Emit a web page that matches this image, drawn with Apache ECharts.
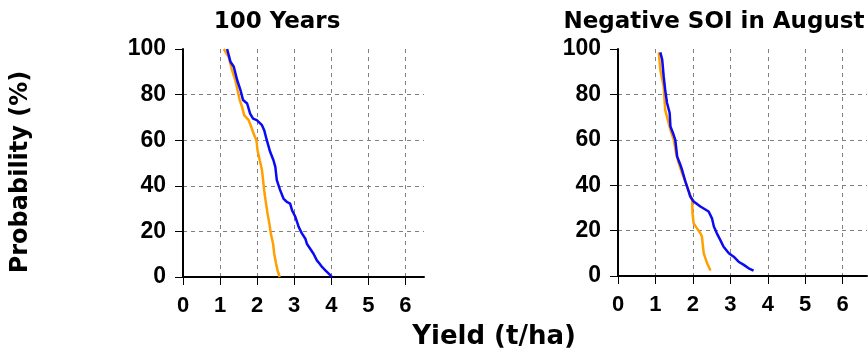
<!DOCTYPE html>
<html>
<head>
<meta charset="utf-8">
<script src="https://cdn.jsdelivr.net/npm/echarts@6/dist/echarts.min.js"></script>
<style>
html,body{margin:0;padding:0;background:#fff;}
#chart{width:868px;height:353px;}
</style>
</head>
<body>
<div id="chart"></div>
<script>
// ---- Data ----
var panelTitles = ["100 Years", "Negative SOI in August"];
var xTickLabels = ["0","1","2","3","4","5","6"];
var yTickLabels = ["0","20","40","60","80","100"];

var leftBlueYield = [1.19,1.28,1.37,1.46,1.55,1.62,1.73,1.81,1.89,1.99,2.13,2.19,2.26,2.35,2.44,2.49,2.53,2.62,2.71,2.80,2.89,2.94,3.03,3.12,3.21,3.30,3.34,3.43,3.52,3.61,3.68,3.75,3.84,3.93,4.02];
var leftBlueProb  = [100,94.4,92.2,86.4,82,77.6,76.1,71.7,69.5,68.8,66.6,64.4,60,54.9,51.2,48.3,42.5,38.1,34.4,32.9,32.2,29.3,26.4,22,19,16.8,14.6,12.4,10.2,7.3,5.9,4.4,2.9,1.5,0];

var leftOrangeYield = [1.10,1.23,1.32,1.41,1.47,1.53,1.59,1.65,1.77,1.84,1.90,1.98,2.01,2.07,2.13,2.17,2.20,2.24,2.28,2.33,2.37,2.43,2.46,2.51,2.55,2.61];
var leftOrangeProb  = [100,96.6,90.8,86.4,82,77.6,74.7,71,68.8,65.9,63,60,55.6,51.2,46.9,41,36.6,32.2,27.8,23.4,19,14.6,10.2,5.9,2.9,0];

var rightBlueYield = [1.13,1.18,1.22,1.26,1.31,1.38,1.40,1.47,1.53,1.58,1.65,1.71,1.80,1.89,1.93,2.02,2.20,2.42,2.51,2.56,2.64,2.73,2.82,2.96,3.09,3.22,3.36,3.49,3.62];
var rightBlueProb  = [98.5,95.3,87.9,82,76.2,71.8,65.9,62.9,60,52.6,49.7,46.8,41.6,37.2,35,32.8,30.6,28.4,25.4,21.8,18.8,15.9,12.9,10,8.5,6.3,4.9,3.4,2.4];

var rightOrangeYield = [1.09,1.13,1.22,1.26,1.33,1.40,1.49,1.55,1.62,1.71,1.80,1.89,1.98,1.99,2.02,2.11,2.20,2.24,2.29,2.38,2.47];
var rightOrangeProb  = [98.5,90.9,83.5,73.2,68.8,64.4,60,54.1,49.7,45.3,41.6,37.2,33.5,27.6,23.2,21,18.8,17.4,10,5.6,2.4];

function zip(xs, ys){ return xs.map(function(x,i){ return [x, ys[i]]; }); }

var BLUE = '#0a0af5', ORANGE = '#ffa000';
var tickFont = 'Liberation Sans';
var titleFont = 'DejaVu Sans';

function xAxisDef(idx, max){
  return {
    type:'value', gridIndex: idx, min:0, max:max, interval:1,
    axisLine:{show:true, onZero:false, lineStyle:{color:'#000', width:2}},
    axisTick:{show:true, length:8, lineStyle:{color:'#000', width:1}},
    axisLabel:{show:true, margin:18, color:'#000', fontFamily:tickFont, fontWeight:'bold', fontSize:22,
      showMaxLabel:false,
      formatter:function(v){ var i = xTickLabels.indexOf(String(v)); return i>=0 ? xTickLabels[i] : ''; }},
    splitLine:{show:true, showMinLine:false, showMaxLine:false, lineStyle:{color:'#808080', width:1, type:[4,4]}}
  };
}
function yAxisDef(idx){
  return {
    type:'value', gridIndex: idx, min:0, max:100, interval:20,
    axisLine:{show:true, lineStyle:{color:'#000', width:2}},
    axisTick:{show:true, length:8, lineStyle:{color:'#000', width:1}},
    axisLabel:{show:true, margin:17, color:'#000', fontFamily:tickFont, fontWeight:'bold', fontSize:23,
      formatter:function(v){ var i = yTickLabels.indexOf(String(v)); return i>=0 ? yTickLabels[i] : ''; }},
    splitLine:{show:true, showMinLine:false, showMaxLine:false, lineStyle:{color:'#808080', width:1, type:[4,4]}}
  };
}
function lineSeries(idx, data, color){
  return {type:'line', xAxisIndex:idx, yAxisIndex:idx, data:data, showSymbol:false, symbol:'none',
    lineStyle:{color:color, width:2.5}, itemStyle:{color:color}, animation:false, clip:false};
}

var chart = echarts.init(document.getElementById('chart'), null, {renderer:'canvas'});
chart.setOption({
  backgroundColor:'#fff',
  animation:false,
  title:[
    {text:panelTitles[0], left:272, top:6, textAlign:'center',
     textStyle:{fontFamily:titleFont, fontWeight:'bold', fontSize:23, color:'#000'}},
    {text:panelTitles[1], left:709, top:6, textAlign:'center',
     textStyle:{fontFamily:titleFont, fontWeight:'bold', fontSize:23, color:'#000'}}
  ],
  grid:[
    {left:183, top:49, width:241, height:228, containLabel:false},
    {left:618, top:49, width:249, height:227, containLabel:false}
  ],
  xAxis:[xAxisDef(0, 6.5), xAxisDef(1, 6.65)],
  yAxis:[yAxisDef(0), yAxisDef(1)],
  series:[
    lineSeries(0, zip(leftOrangeYield, leftOrangeProb), ORANGE),
    lineSeries(0, zip(leftBlueYield, leftBlueProb), BLUE),
    lineSeries(1, zip(rightOrangeYield, rightOrangeProb), ORANGE),
    lineSeries(1, zip(rightBlueYield, rightBlueProb), BLUE)
  ],
  graphic:[
    {type:'text', x:21, y:172, rotation:Math.PI/2,
     style:{text:'Probability (%)', fontFamily:titleFont, fontWeight:'bold', fontSize:24, fill:'#000', align:'center', verticalAlign:'middle'}},
    {type:'text', x:494, y:337,
     style:{text:'Yield (t/ha)', fontFamily:titleFont, fontWeight:'bold', fontSize:26, fill:'#000', align:'center', verticalAlign:'middle'}}
  ]
});
</script>
</body>
</html>
